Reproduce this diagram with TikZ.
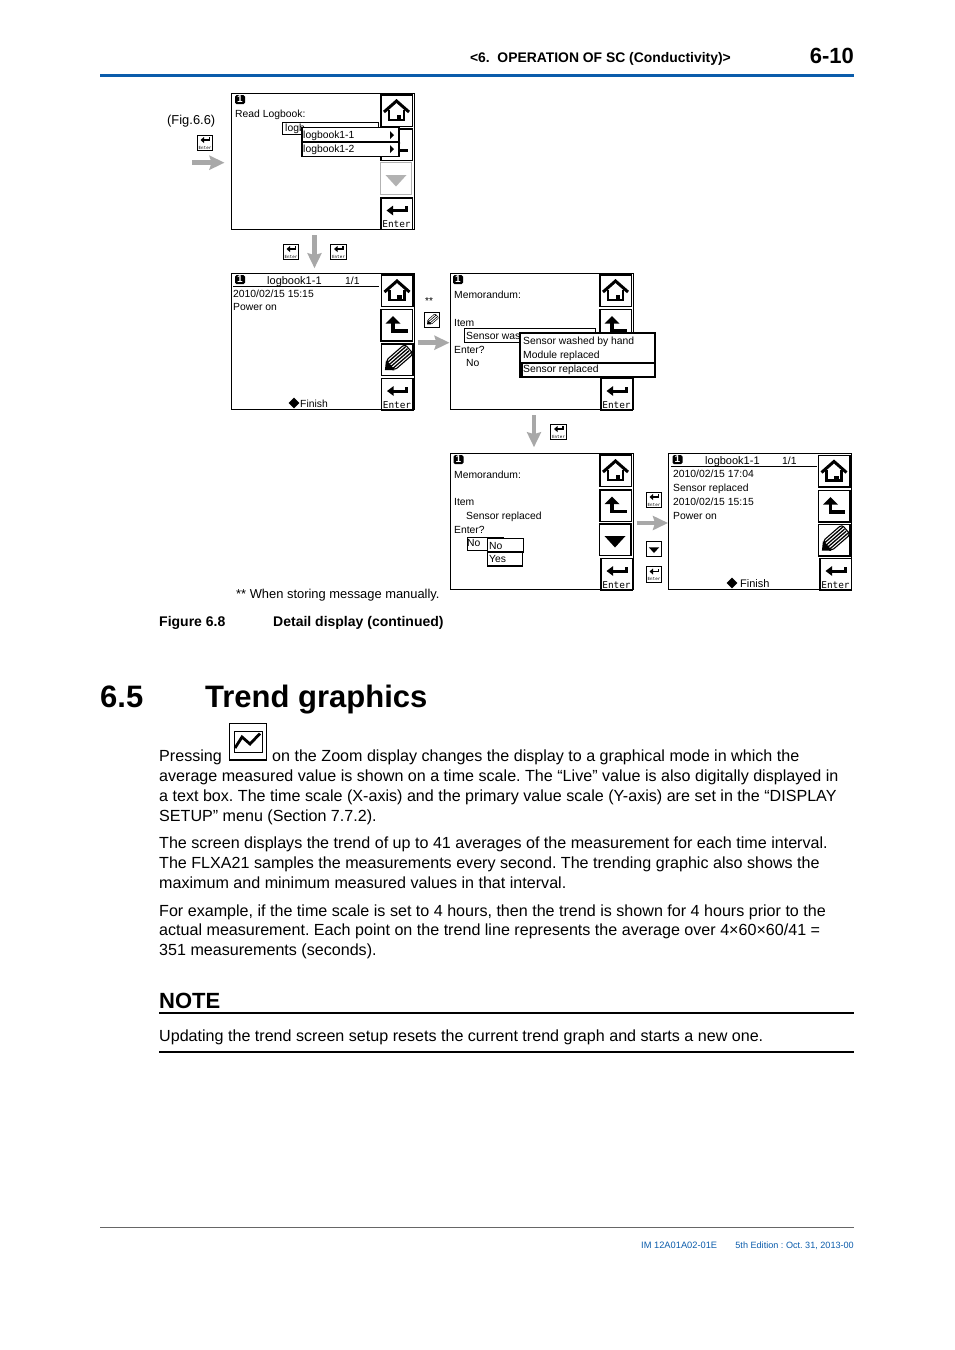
\documentclass[tikz,border=0pt]{standalone}
\usepackage{fontspec}
\setmainfont{Liberation Sans}
\setmonofont{DejaVu Sans Mono}
\usepackage{xcolor}
\usetikzlibrary{arrows.meta,positioning,shapes.geometric}
\definecolor{rule}{HTML}{0B5CAB}
\definecolor{flowgray}{HTML}{A8A8A8}
\newcommand{\fs}[1]{\fontsize{#1}{#1}\selectfont}
\tikzset{
  screen/.style={draw=black,fill=white,line width=1pt,minimum width=183pt,minimum height=136pt,inner sep=0pt},
  btn/.style={draw=black,fill=white,line width=1.5pt,minimum width=31.5pt,minimum height=31.5pt,inner sep=0pt},
  btng/.style={btn,draw=black!30,line width=1pt},
  key/.style={draw=black,fill=white,line width=.9pt,minimum width=15.5pt,minimum height=15.5pt,inner sep=0pt},
  badge/.style={fill=black,text=white,rounded corners=1.5pt,minimum width=10pt,minimum height=9pt,inner sep=0pt,font=\fs{10}\bfseries},
  lcd/.style={anchor=base west,inner sep=0pt,font=\fs{10.35}},
  lcdh/.style={lcd,font=\fs{11}},
  body/.style={anchor=base west,inner sep=0pt,font=\fs{16.1}},
  lab/.style={anchor=base west,inner sep=0pt,font=\fs{12.9}},
  capt/.style={anchor=base west,inner sep=0pt,font=\fs{14}\bfseries},
  sect/.style={anchor=base west,inner sep=0pt,font=\fs{31}\bfseries},
  entxt/.style={anchor=base,inner sep=0pt,font=\fs{9.4}\ttfamily},
  keytxt/.style={anchor=base,inner sep=0pt,font=\fs{4.2}\ttfamily},
  flow/.style={-{Stealth[length=15pt,width=14pt,inset=2pt]},line width=4.5pt,color=flowgray},
  pop/.style={draw=black,fill=white,line width=1pt,inner sep=0pt},
  finmark/.style={diamond,fill=black,minimum width=11pt,minimum height=11pt,inner sep=0pt},
  homeic/.pic={
    \draw[line width=3pt,line join=miter] (-12.5,1.5) -- (0,-9.5) -- (12.5,1.5);
    \draw[line width=2.6pt] (-7.5,-1) -- (-7.5,9.5) -- (7.5,9.5) -- (7.5,-1);
    \fill (0,4.5) rectangle (4.5,10.5);
  },
  backic/.pic={
    \fill (-3.5,-9) -- (-11,-1.5) -- (4,-1.5) -- cycle;
    \draw[line width=3.6pt] (-3.5,-2) -- (-3.5,6) -- (11,6);
  },
  downic/.pic={\fill (-10.5,-3.5) -- (10.5,-3.5) -- (0,8) -- cycle;},
  downig/.pic={\fill[black!30] (-10.5,-3.5) -- (10.5,-3.5) -- (0,8) -- cycle;},
  enteric/.pic={
    \fill (-10,-3) -- (-3.3,-8) -- (-3.3,2) -- cycle;
    \draw[line width=3pt] (-4,-3) -- (9.5,-3) -- (9.5,-7.5);
  },
  keyic/.pic={
    \fill (-4.5,-3) -- (-1,-6) -- (-1,0) -- cycle;
    \draw[line width=1.4pt] (-1.5,-3) -- (4.5,-3) -- (4.5,-6);
  },
  penic/.pic={
    \begin{scope}[rotate=41]
      \draw[line width=1.1pt,fill=white,rounded corners=3pt] (-9,-6.5) -- (16,-6.5) -- (16,6.5) -- (-9,6.5) -- cycle;
      \foreach \yy in {-4,-1.3,1.3,4} {\draw[line width=1.3pt] (-9,\yy) -- (15,\yy);}
      \fill (-16,0) -- (-9,-6.5) -- (-9,6.5) -- cycle;
    \end{scope}
  },
  pensm/.pic={
    \begin{scope}[rotate=41]
      \draw[line width=.5pt,fill=white,rounded corners=1pt] (-3.5,-2.8) -- (6.5,-2.8) -- (6.5,2.8) -- (-3.5,2.8) -- cycle;
      \foreach \yy in {-1,1} {\draw[line width=.6pt] (-3.5,\yy) -- (6,\yy);}
      \fill (-6.5,0) -- (-3.5,-2.8) -- (-3.5,2.8) -- cycle;
    \end{scope}
  },
}
\newcommand{\btnat}[4]{\node[btn] (#1) at (#2,#3) {}; \pic at (#1) {#4};}
\newcommand{\enterat}[3]{\node[btn] (#1) at (#2,#3) {}; \pic at (#1) {enteric};
  \node[entxt] (#1t) at (#2,#3+14) {Enter};}
\newcommand{\keyat}[3]{\node[key] (#1) at (#2,#3) {}; \pic at (#1) {keyic};
  \node[keytxt] (#1t) at (#2,#3+6) {Enter};}
\begin{document}
\frenchspacing
\begin{tikzpicture}[x=1pt,y=-1pt]
\useasboundingbox (0,0) rectangle (954,1350);
% page head
\node[anchor=base east,inner sep=0pt,font=\fs{13.9}\bfseries] (head) at (731,62) {<6.\ \ OPERATION OF SC (Conductivity)>};
\node[anchor=base east,inner sep=0pt,font=\fs{22}\bfseries] (pageno) at (854,63) {6-10};
\draw[rule,line width=3pt] (100,75) -- (854,75);
% first screen
\node[lab] (fig66) at (167,124) {(Fig.6.6)};
\keyat{k1}{205}{143}
\node[screen] (s1) at (322.5,161.7) {};
\node[badge] (s1b) at (240,99.5) {1};
\node[lcd] (s1t) at (235,117) {Read Logbook:};
\btnat{s1home}{396.5}{110.5}{homeic}
\btnat{s1back}{396.5}{144.5}{backic}
\node[btng] (s1down) at (396,178.5) {}; \pic at (s1down) {downig};
\enterat{s1ent}{396.5}{213.5}
\node[pop,minimum width=96pt,minimum height=12pt] (s1sel) at (330,128) {};
\node[lcd] (s1selt) at (285,131) {logb};
\node[pop,line width=1.5pt,minimum width=97pt,minimum height=29pt] (s1pop) at (350.5,142) {};
\node[lcd] (s1p1) at (303,138) {logbook1-1};
\node[lcd] (s1p2) at (303,152) {logbook1-2};
\draw[line width=1.3pt] (302,142) -- (399,142);
\fill (390,131) -- (394,135) -- (390,139) -- cycle;
\fill (390,145) -- (394,149) -- (390,153) -- cycle;
\keyat{k2}{291}{252}
\keyat{k3}{338.5}{252}
% second screen
\node[screen] (s2) at (322.5,341.7) {};
\node[badge] (s2b) at (240,279.5) {1};
\node[lcdh] (s2h) at (267,284) {logbook1-1};
\node[lcd] (s2n) at (345,284) {1/1};
\draw[line width=.9pt] (233,286) -- (379,286);
\node[lcd] (s2d) at (233,297) {2010/02/15 15:15};
\node[lcd] (s2m) at (233,310) {Power on};
\node[finmark] (s2f) at (294,403) {};
\node[lcd] (s2ft) at (300,407) {Finish};
\btnat{s2home}{397}{290.5}{homeic}
\btnat{s2back}{396.5}{325}{backic}
\btnat{s2pen}{397}{359.5}{penic}
\enterat{s2ent}{397}{394}
\node[lab,font=\fs{10}] (star) at (425,304) {**};
\node[key] (k4) at (432,320) {}; \pic at (k4) {pensm};
% third screen
\node[screen] (s3) at (541.5,341.7) {};
\node[badge] (s3b) at (458,279.5) {1};
\node[lcd] (s3t) at (454,298) {Memorandum:};
\node[lcd] (s3i) at (454,326) {Item};
\btnat{s3home}{615.5}{290.5}{homeic}
\btnat{s3back}{615.5}{325}{backic}
\enterat{s3ent}{616.5}{394}
\node[pop,minimum width=131pt,minimum height=14pt] (s3sel) at (529.5,335) {};
\node[lcd] (s3selt) at (466,339) {Sensor was};
\node[lcd] (s3e) at (454,353) {Enter?};
\node[lcd] (s3n) at (466,366) {No};
\node[pop,line width=1.5pt,minimum width=135pt,minimum height=44pt] (s3pop) at (587.5,355) {};
\node[lcd] (s3p1) at (523,344) {Sensor washed by hand};
\node[lcd] (s3p2) at (523,358) {Module replaced};
\node[pop,line width=1.5pt,anchor=north west,minimum width=133pt,minimum height=14pt] (s3psel) at (521,362) {};
\node[lcd] (s3p3) at (523,372) {Sensor replaced};
\keyat{k5}{558.5}{432}
% fourth screen
\node[screen] (s4) at (541.5,521.7) {};
\node[badge] (s4b) at (458.5,459.5) {1};
\node[lcd] (s4t) at (454,478) {Memorandum:};
\node[lcd] (s4i) at (454,505) {Item};
\node[lcd] (s4s) at (466,519) {Sensor replaced};
\node[lcd] (s4e) at (454,533) {Enter?};
\node[pop,minimum width=36pt,minimum height=13pt] (s4sel) at (485,543.5) {};
\node[lcd] (s4n) at (467,546) {No};
\node[pop,minimum width=36pt,minimum height=14pt] (s4p1b) at (505.5,545) {};
\node[lcd] (s4p1) at (489,549) {No};
\node[pop,line width=1.6pt,minimum width=35pt,minimum height=14pt] (s4p2b) at (505,559) {};
\node[lcd] (s4p2) at (489,562) {Yes};
\btnat{s4home}{615.5}{470.5}{homeic}
\btnat{s4back}{615.5}{505.5}{backic}
\btnat{s4down}{615}{539.5}{downic}
\enterat{s4ent}{616.5}{574}
\keyat{k6}{654}{500}
\node[key] (k7) at (654,549) {}; \pic[scale=.5] at (k7) {downic};
\keyat{k8}{654}{574.5}
% fifth screen
\node[screen] (s5) at (760,521.7) {};
\node[badge] (s5b) at (677.5,459.5) {1};
\node[lcdh] (s5h) at (705,464) {logbook1-1};
\node[lcd] (s5n) at (782,464) {1/1};
\draw[line width=.9pt] (671,466) -- (817,466);
\node[lcd] (s5d1) at (673,477) {2010/02/15 17:04};
\node[lcd] (s5m1) at (673,491) {Sensor replaced};
\node[lcd] (s5d2) at (673,505) {2010/02/15 15:15};
\node[lcd] (s5m2) at (673,519) {Power on};
\node[finmark] (s5f) at (732,583) {};
\node[lcdh] (s5ft) at (740,587) {Finish};
\btnat{s5home}{834}{471}{homeic}
\btnat{s5back}{834}{506}{backic}
\btnat{s5pen}{834}{540}{penic}
\enterat{s5ent}{835.5}{574}
% flow between screens
\coordinate (a1) at (192,162.7);
\draw[flow,shorten >=6pt] (a1) -- (a1 -| s1.west);
\draw[flow,shorten <=5pt,shorten >=5pt] ([xshift=-8pt]s1.south) -- ([xshift=-8pt]s2.north);
\draw[flow,shorten <=3pt] ([yshift=-1pt]s2.east) -- ([yshift=-1pt]s3.west);
\draw[flow,shorten <=5pt,shorten >=6pt] ([xshift=-7.5pt]s3.south) -- ([xshift=-7.5pt]s4.north);
\draw[flow,shorten <=3pt] ([yshift=-1.3pt]s4.east) -- ([yshift=-1.3pt]s5.west);
% captions
\node[lab] (note) at (236,598) {** When storing message manually.};
\node[capt] (figno) at (159,626) {Figure 6.8};
\node[capt] (figcap) at (273,626) {Detail display (continued)};
% section
\node[sect] (secno) at (100,707) {6.5};
\node[sect] (sectitle) at (205,707) {Trend graphics};
\node[body] (l1a) at (159,761) {Pressing};
\node[draw=black,line width=1pt,minimum width=37pt,minimum height=36pt,inner sep=0pt] (trend) at (248,741) {};
\node[draw=black,line width=1pt,minimum width=28pt,minimum height=21pt,inner sep=0pt] (trendin) at (248,741.5) {};
\draw[line width=2.4pt] ([yshift=-.7pt]trend.south west) -- ([yshift=-.7pt]trend.south east);
\draw[line width=2.8pt] (235,748) -- (242,737) -- (250,744) -- (260,733.5);
\node[body] (l1b) at (272,761) {on the Zoom display changes the display to a graphical mode in which the};
\node[body] (l2) at (159,781) {average measured value is shown on a time scale. The “Live” value is also digitally displayed in};
\node[body] (l3) at (159,801) {a text box. The time scale (X-axis) and the primary value scale (Y-axis) are set in the “DISPLAY};
\node[body] (l4) at (159,821) {SETUP” menu (Section 7.7.2).};
\node[body] (l5) at (159,848) {The screen displays the trend of up to 41 averages of the measurement for each time interval.};
\node[body] (l6) at (159,868) {The FLXA21 samples the measurements every second. The trending graphic also shows the};
\node[body] (l7) at (159,888) {maximum and minimum measured values in that interval.};
\node[body] (l8) at (159,916) {For example, if the time scale is set to 4 hours, then the trend is shown for 4 hours prior to the};
\node[body] (l9) at (159,935) {actual measurement. Each point on the trend line represents the average over 4×60×60/41 =};
\node[body] (l10) at (159,955) {351 measurements (seconds).};
% note
\node[anchor=base west,inner sep=0pt,font=\fs{22}\bfseries] (notehead) at (159,1008) {NOTE};
\draw[line width=1.5pt] (159,1013) -- (854,1013);
\node[body] (notetxt) at (159,1041) {Updating the trend screen setup resets the current trend graph and starts a new one.};
\draw[line width=1.2pt] (159,1052) -- (854,1052);
% foot
\draw[black!60,line width=.8pt] (100,1227.5) -- (854,1227.5);
\node[anchor=base west,inner sep=0pt,font=\fs{9.3},text=rule] (foot1) at (641,1248) {IM 12A01A02-01E};
\node[anchor=base east,inner sep=0pt,font=\fs{9.1},text=rule] (foot2) at (854,1248) {5th Edition : Oct. 31, 2013-00};
\end{tikzpicture}
\end{document}
